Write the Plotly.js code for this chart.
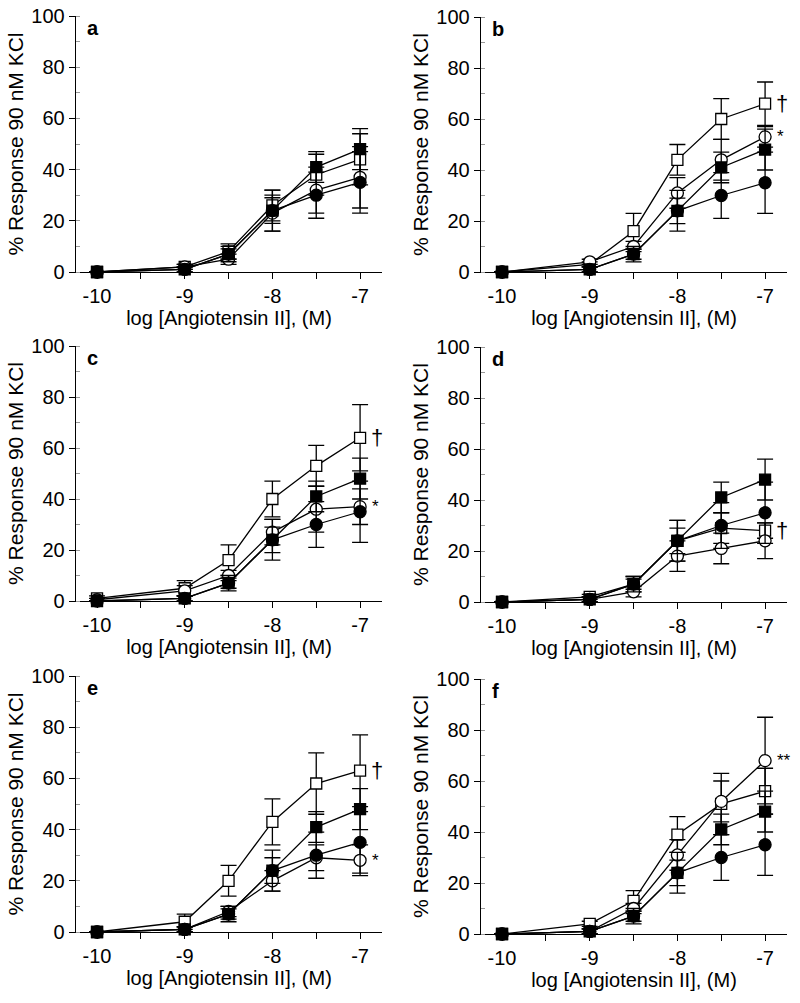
<!DOCTYPE html>
<html>
<head>
<meta charset="utf-8">
<script src="https://cdn.plot.ly/plotly-3.0.1.min.js"></script>
<style>html,body{margin:0;padding:0;background:#fff;}#chart{width:800px;height:1003px;}</style>
</head>
<body>
<div id="chart"></div>
<script>
// ---- data ----
const logAngII = [-10, -9, -8.5, -8, -7.5, -7];
const panelLabels = ['a', 'b', 'c', 'd', 'e', 'f'];

// control curves (same in every panel)
const filledCircle = [0, 1, 7, 24, 30, 35];
const filledCircleErr = [0, 1, 2, 5, 9, 12];
const filledSquare = [0, 1, 7, 24, 41, 48];
const filledSquareErr = [0, 1, 3, 8, 6, 8];

// open circle per panel a..f
const openCircleA = [0, 2, 5, 23, 32, 37];
const openCircleB = [0, 4, 10, 31, 44, 53];
const openCircleC = [0.5, 4, 10, 27, 36, 37];
const openCircleD = [0, 1, 4, 18, 21, 24];
const openCircleE = [0, 1, 8, 20, 29, 28];
const openCircleF = [0, 1, 10, 31, 52, 68];
const openCircleErrA = [0, 1, 2, 7, 9, 12];
const openCircleErrB = [0, 1, 2, 6, 8, 4];
const openCircleErrC = [0.5, 2, 2, 5, 9, 7];
const openCircleErrD = [0, 1, 2, 6, 6, 7];
const openCircleErrE = [0, 1, 2, 4, 5, 6];
const openCircleErrF = [0, 1, 2, 6, 8, 17];

// open square per panel a..f
const openSquareA = [0, 2, 8, 26, 38, 44];
const openSquareB = [0, 3, 16, 44, 60, 66];
const openSquareC = [1, 5, 16, 40, 53, 64];
const openSquareD = [0, 2, 7, 24, 29, 28];
const openSquareE = [0, 4, 20, 43, 58, 63];
const openSquareF = [0, 4, 13, 39, 51, 56];
const openSquareErrA = [0, 1, 3, 6, 8, 10];
const openSquareErrB = [0, 1, 7, 6, 8, 8.5];
const openSquareErrC = [1, 3, 6, 7, 8, 13];
const openSquareErrD = [0, 1, 3, 8, 6, 3];
const openSquareErrE = [0, 3, 6, 9, 12, 14];
const openSquareErrF = [0, 1, 4, 7, 12, 9];

// significance marks next to the last point
const sigOpenSquare = ['', '†', '†', '†', '†', ''];
const sigOpenCircle = ['', '*', '*', '', '*', '**'];

const xTickVals = [-10, -9, -8, -7];
const xTickText = ['-10', '-9', '-8', '-7'];
const yTickVals = [0, 20, 40, 60, 80, 100];

const openCircles = [openCircleA, openCircleB, openCircleC, openCircleD, openCircleE, openCircleF];
const openCircleErrs = [openCircleErrA, openCircleErrB, openCircleErrC, openCircleErrD, openCircleErrE, openCircleErrF];
const openSquares = [openSquareA, openSquareB, openSquareC, openSquareD, openSquareE, openSquareF];
const openSquareErrs = [openSquareErrA, openSquareErrB, openSquareErrC, openSquareErrD, openSquareErrE, openSquareErrF];

// ---- layout geometry (pixels) ----
const W = 800, H = 1003;
const boxes = [
  {x0: 76, x1: 382, y0: 16, y1: 272},
  {x0: 481, x1: 787, y0: 17, y1: 272},
  {x0: 76, x1: 382, y0: 346, y1: 601},
  {x0: 481, x1: 787, y0: 347, y1: 602},
  {x0: 76, x1: 382, y0: 676, y1: 932},
  {x0: 481, x1: 787, y0: 679, y1: 934}
];

const FONT = 'Liberation Sans, Arial, Helvetica, sans-serif';
const traces = [];
const layout = {
  width: W, height: H,
  margin: {l: 0, r: 0, t: 0, b: 0},
  paper_bgcolor: '#fff', plot_bgcolor: 'rgba(0,0,0,0)',
  showlegend: false,
  font: {family: FONT, color: '#000', size: 20},
  annotations: []
};

function series(y, err, symbol, fill, xa, ya, size) {
  return {
    type: 'scatter', mode: 'lines+markers',
    x: logAngII, y: y, xaxis: xa, yaxis: ya,
    cliponaxis: false,
    line: {color: '#000', width: 1.3},
    marker: {symbol: symbol, size: size, color: fill, line: {color: '#000', width: 1.3}},
    error_y: {type: 'data', array: err, visible: true, color: '#000', thickness: 1.3, width: 8},
    hoverinfo: 'x+y'
  };
}

for (let i = 0; i < 6; i++) {
  const n = i === 0 ? '' : String(i + 1);
  const xa = 'x' + n, ya = 'y' + n;
  const b = boxes[i];
  traces.push(series(openSquares[i], openSquareErrs[i], 'square', '#fff', xa, ya, 11));
  traces.push(series(openCircles[i], openCircleErrs[i], 'circle', '#fff', xa, ya, 12));
  traces.push(series(filledCircle, filledCircleErr, 'circle', '#000', xa, ya, 12));
  traces.push(series(filledSquare, filledSquareErr, 'square', '#000', xa, ya, 11));

  layout['xaxis' + n] = {
    domain: [b.x0 / W, b.x1 / W], anchor: ya,
    range: [-10.24, -6.75], fixedrange: true,
    showgrid: false, zeroline: false,
    showline: true, linecolor: '#000', linewidth: 1.3,
    tickmode: 'array', tickvals: xTickVals, ticktext: xTickText,
    ticks: 'outside', ticklen: 6, tickwidth: 1, tickcolor: '#000',
    minor: {dtick: 0.5, tick0: -10, ticks: 'outside', ticklen: 6, tickwidth: 1, tickcolor: '#000', showgrid: false},
    tickfont: {size: 20, family: FONT},
    title: {text: 'log [Angiotensin II], (M)', font: {size: 20, family: FONT}, standoff: 4}
  };
  layout['yaxis' + n] = {
    domain: [1 - b.y1 / H, 1 - b.y0 / H], anchor: xa,
    range: [0, 100], fixedrange: true,
    showgrid: false, zeroline: false,
    showline: true, linecolor: '#000', linewidth: 1.3,
    tickmode: 'array', tickvals: yTickVals,
    ticks: 'outside', ticklen: 6, tickwidth: 1, tickcolor: '#000',
    minor: {dtick: 10, tick0: 0, ticks: 'inside', ticklen: 4, tickwidth: 1, tickcolor: '#999', showgrid: false},
    tickfont: {size: 20, family: FONT},
    title: {text: '% Response 90 nM KCl', font: {size: 21, family: FONT}, standoff: 2}
  };

  layout.annotations.push({
    xref: 'paper', yref: 'paper', x: (b.x0 + 9) / W, y: 1 - (b.y0 + 12) / H,
    xanchor: 'left', yanchor: 'middle', showarrow: false,
    text: '<b>' + panelLabels[i] + '</b>', font: {size: 20, family: FONT}
  });
  if (sigOpenSquare[i]) {
    layout.annotations.push({
      xref: xa, yref: ya, x: logAngII[5], y: openSquares[i][5],
      xanchor: 'left', yanchor: 'middle', xshift: 9, showarrow: false,
      text: sigOpenSquare[i], font: {size: 22, family: FONT}
    });
  }
  if (sigOpenCircle[i]) {
    layout.annotations.push({
      xref: xa, yref: ya, x: logAngII[5], y: openCircles[i][5],
      xanchor: 'left', yanchor: 'middle', xshift: 10, yshift: 0, showarrow: false,
      text: sigOpenCircle[i], font: {size: 17, family: FONT}
    });
  }
}

Plotly.newPlot('chart', traces, layout, {staticPlot: true, displayModeBar: false});
</script>
</body>
</html>
